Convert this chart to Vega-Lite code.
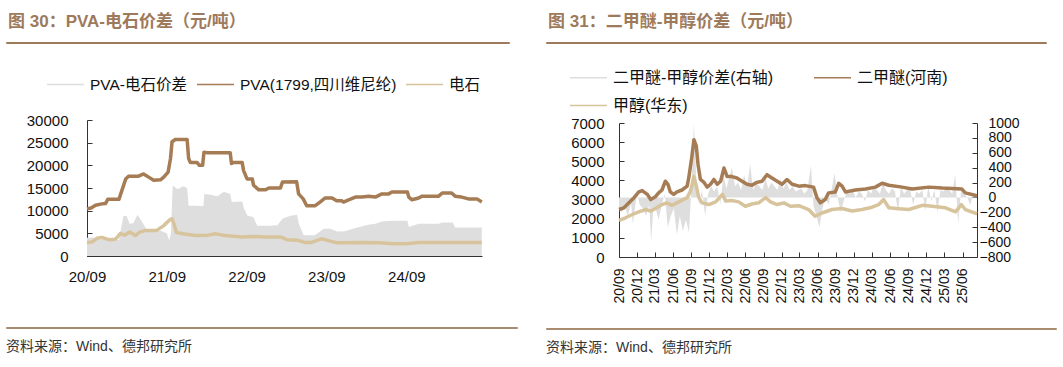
{
  "$schema": "https://vega.github.io/schema/vega-lite/v6.json",
  "background": "white",
  "padding": {"left": 5, "top": 12, "right": 0, "bottom": 0},
  "datasets": {
    "pva": [
      {"d": "2020-09-01", "v": 10400}, {"d": "2020-09-20", "v": 10600}, {"d": "2020-10-10", "v": 11200}, {"d": "2020-11-08", "v": 11500},
      {"d": "2020-11-25", "v": 11600}, {"d": "2020-12-05", "v": 12500}, {"d": "2021-01-25", "v": 12500}, {"d": "2021-02-10", "v": 14800},
      {"d": "2021-02-25", "v": 17000}, {"d": "2021-03-10", "v": 17600}, {"d": "2021-04-25", "v": 17600}, {"d": "2021-05-18", "v": 18100},
      {"d": "2021-06-10", "v": 17400}, {"d": "2021-07-03", "v": 16700}, {"d": "2021-08-03", "v": 16800}, {"d": "2021-08-18", "v": 17400},
      {"d": "2021-09-07", "v": 18500}, {"d": "2021-09-18", "v": 21500}, {"d": "2021-09-25", "v": 25200}, {"d": "2021-10-10", "v": 25700},
      {"d": "2021-12-03", "v": 25700}, {"d": "2021-12-10", "v": 21500}, {"d": "2021-12-18", "v": 20600}, {"d": "2022-01-18", "v": 20600},
      {"d": "2022-01-28", "v": 20000}, {"d": "2022-02-12", "v": 20000}, {"d": "2022-02-18", "v": 22900}, {"d": "2022-03-03", "v": 22800},
      {"d": "2022-06-18", "v": 22800}, {"d": "2022-06-24", "v": 20400}, {"d": "2022-07-03", "v": 20600}, {"d": "2022-08-12", "v": 20600},
      {"d": "2022-08-18", "v": 18900}, {"d": "2022-09-03", "v": 17000}, {"d": "2022-09-27", "v": 17000}, {"d": "2022-10-03", "v": 15600},
      {"d": "2022-10-27", "v": 14600}, {"d": "2022-11-27", "v": 14600}, {"d": "2022-12-12", "v": 15000}, {"d": "2023-02-03", "v": 15000},
      {"d": "2023-02-12", "v": 16300}, {"d": "2023-04-18", "v": 16400}, {"d": "2023-04-27", "v": 13700}, {"d": "2023-05-18", "v": 12600},
      {"d": "2023-06-03", "v": 11100}, {"d": "2023-07-12", "v": 11100}, {"d": "2023-08-03", "v": 11900}, {"d": "2023-08-27", "v": 12800},
      {"d": "2023-09-27", "v": 12800}, {"d": "2023-10-18", "v": 12200}, {"d": "2023-11-10", "v": 12200}, {"d": "2023-11-18", "v": 11900},
      {"d": "2023-12-12", "v": 12400}, {"d": "2024-01-12", "v": 13000}, {"d": "2024-02-12", "v": 13000}, {"d": "2024-03-12", "v": 13200},
      {"d": "2024-04-12", "v": 13000}, {"d": "2024-05-12", "v": 13700}, {"d": "2024-06-12", "v": 13700}, {"d": "2024-06-27", "v": 14100},
      {"d": "2024-09-06", "v": 14100}, {"d": "2024-09-12", "v": 13000}, {"d": "2024-09-27", "v": 12400}, {"d": "2024-10-27", "v": 12800},
      {"d": "2024-11-12", "v": 13200}, {"d": "2025-01-27", "v": 13200}, {"d": "2025-02-12", "v": 13900}, {"d": "2025-03-27", "v": 13900},
      {"d": "2025-04-12", "v": 13200}, {"d": "2025-05-12", "v": 13000}, {"d": "2025-06-12", "v": 12600}, {"d": "2025-07-21", "v": 12600},
      {"d": "2025-08-12", "v": 11900}
    ],
    "carbide": [
      {"d": "2020-09-01", "v": 3000}, {"d": "2020-09-25", "v": 3100}, {"d": "2020-10-16", "v": 3900}, {"d": "2020-11-08", "v": 4100},
      {"d": "2020-12-10", "v": 3600}, {"d": "2021-01-10", "v": 3700}, {"d": "2021-02-01", "v": 5000}, {"d": "2021-02-20", "v": 4600},
      {"d": "2021-03-15", "v": 5300}, {"d": "2021-04-10", "v": 4500}, {"d": "2021-05-01", "v": 5300}, {"d": "2021-05-25", "v": 5600},
      {"d": "2021-07-15", "v": 5600}, {"d": "2021-08-18", "v": 6700}, {"d": "2021-09-15", "v": 8000}, {"d": "2021-09-25", "v": 8200},
      {"d": "2021-10-05", "v": 6900}, {"d": "2021-10-15", "v": 5200}, {"d": "2021-11-15", "v": 4900}, {"d": "2022-01-10", "v": 4500},
      {"d": "2022-03-10", "v": 4600}, {"d": "2022-04-10", "v": 4900}, {"d": "2022-05-25", "v": 4500}, {"d": "2022-08-12", "v": 4200},
      {"d": "2022-09-27", "v": 4300}, {"d": "2022-11-27", "v": 4200}, {"d": "2023-02-03", "v": 4200}, {"d": "2023-03-05", "v": 3600},
      {"d": "2023-04-20", "v": 3500}, {"d": "2023-05-25", "v": 3000}, {"d": "2023-06-25", "v": 3000}, {"d": "2023-08-10", "v": 3800},
      {"d": "2023-09-10", "v": 3400}, {"d": "2023-10-20", "v": 2900}, {"d": "2023-11-20", "v": 2900}, {"d": "2024-02-12", "v": 3000},
      {"d": "2024-05-01", "v": 2900}, {"d": "2024-07-01", "v": 2700}, {"d": "2024-09-01", "v": 2700}, {"d": "2024-10-27", "v": 3000},
      {"d": "2025-08-12", "v": 3000}
    ],
    "pvaSpread": [
      {"d": "2020-09-01", "v": 4000}, {"d": "2020-10-01", "v": 4100}, {"d": "2020-11-01", "v": 3600}, {"d": "2020-12-01", "v": 3900},
      {"d": "2021-01-01", "v": 3800}, {"d": "2021-01-25", "v": 3500}, {"d": "2021-02-15", "v": 8900}, {"d": "2021-03-01", "v": 8800},
      {"d": "2021-03-15", "v": 7100}, {"d": "2021-04-01", "v": 7200}, {"d": "2021-04-20", "v": 9100}, {"d": "2021-05-10", "v": 7600},
      {"d": "2021-06-01", "v": 5800}, {"d": "2021-07-01", "v": 5400}, {"d": "2021-08-01", "v": 5600}, {"d": "2021-09-01", "v": 5000},
      {"d": "2021-09-12", "v": 3500}, {"d": "2021-09-20", "v": 5000}, {"d": "2021-09-28", "v": 15600}, {"d": "2021-10-20", "v": 14700},
      {"d": "2021-11-15", "v": 15400}, {"d": "2021-12-03", "v": 15000}, {"d": "2021-12-10", "v": 11100}, {"d": "2022-01-15", "v": 11100},
      {"d": "2022-02-15", "v": 11000}, {"d": "2022-02-20", "v": 13700}, {"d": "2022-03-20", "v": 13500}, {"d": "2022-04-20", "v": 13200},
      {"d": "2022-05-20", "v": 14200}, {"d": "2022-06-18", "v": 13700}, {"d": "2022-06-25", "v": 11900}, {"d": "2022-08-12", "v": 12000},
      {"d": "2022-08-20", "v": 10500}, {"d": "2022-09-05", "v": 8900}, {"d": "2022-10-01", "v": 8600}, {"d": "2022-10-20", "v": 6700},
      {"d": "2022-12-10", "v": 6700}, {"d": "2023-01-20", "v": 6800}, {"d": "2023-02-12", "v": 8200}, {"d": "2023-03-20", "v": 8900},
      {"d": "2023-04-20", "v": 9100}, {"d": "2023-04-28", "v": 7100}, {"d": "2023-05-20", "v": 4600}, {"d": "2023-07-10", "v": 4600},
      {"d": "2023-08-20", "v": 6000}, {"d": "2023-09-20", "v": 6000}, {"d": "2023-10-20", "v": 5400}, {"d": "2023-11-20", "v": 5400},
      {"d": "2024-01-12", "v": 6200}, {"d": "2024-03-12", "v": 6900}, {"d": "2024-04-12", "v": 7100}, {"d": "2024-05-12", "v": 7600},
      {"d": "2024-06-27", "v": 7800}, {"d": "2024-09-06", "v": 7800}, {"d": "2024-09-12", "v": 6400}, {"d": "2024-10-27", "v": 7100},
      {"d": "2025-01-27", "v": 7100}, {"d": "2025-02-12", "v": 7400}, {"d": "2025-04-01", "v": 7400}, {"d": "2025-04-12", "v": 6300},
      {"d": "2025-08-12", "v": 6300}
    ],
    "dme": [
      {"d": "2020-09-01", "v": 2480}, {"d": "2020-09-26", "v": 2570}, {"d": "2020-10-21", "v": 2830}, {"d": "2020-11-16", "v": 3100},
      {"d": "2020-12-10", "v": 3400}, {"d": "2020-12-27", "v": 3470}, {"d": "2021-01-22", "v": 3270}, {"d": "2021-02-08", "v": 3000},
      {"d": "2021-03-04", "v": 3150}, {"d": "2021-03-20", "v": 3350}, {"d": "2021-04-06", "v": 3500}, {"d": "2021-04-23", "v": 3960},
      {"d": "2021-05-06", "v": 3800}, {"d": "2021-05-18", "v": 3400}, {"d": "2021-06-04", "v": 3270}, {"d": "2021-06-21", "v": 3400},
      {"d": "2021-07-16", "v": 3500}, {"d": "2021-08-11", "v": 3700}, {"d": "2021-08-19", "v": 4130}, {"d": "2021-09-03", "v": 5180},
      {"d": "2021-09-14", "v": 6130}, {"d": "2021-09-26", "v": 5800}, {"d": "2021-10-05", "v": 4830}, {"d": "2021-10-17", "v": 4050},
      {"d": "2021-11-04", "v": 3900}, {"d": "2021-11-20", "v": 3650}, {"d": "2021-12-07", "v": 3800}, {"d": "2021-12-24", "v": 4050},
      {"d": "2022-01-10", "v": 3800}, {"d": "2022-01-27", "v": 3960}, {"d": "2022-02-13", "v": 4650}, {"d": "2022-03-01", "v": 4200},
      {"d": "2022-03-25", "v": 4200}, {"d": "2022-04-19", "v": 4130}, {"d": "2022-05-15", "v": 3960}, {"d": "2022-06-09", "v": 3800},
      {"d": "2022-07-04", "v": 3750}, {"d": "2022-07-29", "v": 3900}, {"d": "2022-08-24", "v": 3960}, {"d": "2022-09-18", "v": 4300},
      {"d": "2022-10-13", "v": 4130}, {"d": "2022-11-08", "v": 3960}, {"d": "2022-12-03", "v": 3800}, {"d": "2022-12-28", "v": 4050},
      {"d": "2023-01-23", "v": 3800}, {"d": "2023-02-26", "v": 3700}, {"d": "2023-03-30", "v": 3730}, {"d": "2023-05-11", "v": 3650},
      {"d": "2023-05-28", "v": 3100}, {"d": "2023-06-14", "v": 2830}, {"d": "2023-07-09", "v": 3000}, {"d": "2023-07-26", "v": 3350},
      {"d": "2023-08-29", "v": 3400}, {"d": "2023-09-15", "v": 3850}, {"d": "2023-10-02", "v": 3700}, {"d": "2023-10-19", "v": 3400},
      {"d": "2023-12-08", "v": 3500}, {"d": "2024-01-28", "v": 3550}, {"d": "2024-03-18", "v": 3650}, {"d": "2024-04-21", "v": 3850},
      {"d": "2024-05-25", "v": 3750}, {"d": "2024-07-31", "v": 3650}, {"d": "2024-09-20", "v": 3550}, {"d": "2024-12-13", "v": 3650},
      {"d": "2025-02-19", "v": 3600}, {"d": "2025-05-29", "v": 3550}, {"d": "2025-06-15", "v": 3350}, {"d": "2025-08-13", "v": 3200}
    ],
    "meoh": [
      {"d": "2020-09-01", "v": 1910}, {"d": "2020-10-04", "v": 2050}, {"d": "2020-11-07", "v": 2220}, {"d": "2020-12-10", "v": 2360},
      {"d": "2021-01-14", "v": 2480}, {"d": "2021-02-08", "v": 2400}, {"d": "2021-03-04", "v": 2530}, {"d": "2021-04-06", "v": 2740},
      {"d": "2021-05-01", "v": 2830}, {"d": "2021-05-26", "v": 2700}, {"d": "2021-06-30", "v": 2880}, {"d": "2021-08-11", "v": 3100},
      {"d": "2021-08-28", "v": 3440}, {"d": "2021-09-14", "v": 4200}, {"d": "2021-09-26", "v": 3700}, {"d": "2021-10-09", "v": 3100},
      {"d": "2021-10-25", "v": 2830}, {"d": "2021-11-29", "v": 2740}, {"d": "2022-01-02", "v": 2880}, {"d": "2022-02-05", "v": 3270},
      {"d": "2022-02-22", "v": 2920}, {"d": "2022-03-25", "v": 2950}, {"d": "2022-04-28", "v": 2880}, {"d": "2022-06-01", "v": 2650},
      {"d": "2022-07-04", "v": 2770}, {"d": "2022-08-07", "v": 2830}, {"d": "2022-09-11", "v": 3100}, {"d": "2022-10-06", "v": 2880},
      {"d": "2022-11-08", "v": 2740}, {"d": "2022-12-12", "v": 2830}, {"d": "2023-01-15", "v": 2650}, {"d": "2023-02-26", "v": 2680},
      {"d": "2023-04-16", "v": 2480}, {"d": "2023-05-19", "v": 2130}, {"d": "2023-06-22", "v": 2300}, {"d": "2023-08-12", "v": 2480},
      {"d": "2023-10-02", "v": 2530}, {"d": "2023-11-21", "v": 2400}, {"d": "2024-01-11", "v": 2480}, {"d": "2024-03-01", "v": 2600},
      {"d": "2024-04-04", "v": 2740}, {"d": "2024-04-29", "v": 3000}, {"d": "2024-05-25", "v": 2570}, {"d": "2024-07-14", "v": 2520},
      {"d": "2024-09-03", "v": 2480}, {"d": "2024-11-10", "v": 2700}, {"d": "2024-12-30", "v": 2650}, {"d": "2025-03-07", "v": 2570},
      {"d": "2025-04-27", "v": 2360}, {"d": "2025-05-26", "v": 2740}, {"d": "2025-06-15", "v": 2480}, {"d": "2025-08-13", "v": 2260}
    ],
    "dmeSpread": [
      {"d": "2020-09-01", "v": -150}, {"d": "2020-09-15", "v": -200}, {"d": "2020-10-01", "v": -120}, {"d": "2020-10-15", "v": -250},
      {"d": "2020-11-01", "v": -80}, {"d": "2020-11-10", "v": -360}, {"d": "2020-11-20", "v": -150}, {"d": "2020-12-01", "v": 50}, {"d": "2020-12-15", "v": -100},
      {"d": "2021-01-01", "v": -150}, {"d": "2021-01-15", "v": -250}, {"d": "2021-02-01", "v": -100}, {"d": "2021-02-10", "v": -600},
      {"d": "2021-02-20", "v": -200}, {"d": "2021-03-05", "v": -150}, {"d": "2021-03-20", "v": -300}, {"d": "2021-04-05", "v": -100},
      {"d": "2021-04-20", "v": 50}, {"d": "2021-05-05", "v": -400}, {"d": "2021-05-20", "v": -250}, {"d": "2021-06-05", "v": -150},
      {"d": "2021-06-20", "v": -500}, {"d": "2021-07-05", "v": -250}, {"d": "2021-07-20", "v": -450}, {"d": "2021-08-05", "v": -300},
      {"d": "2021-08-20", "v": -470}, {"d": "2021-09-01", "v": 100}, {"d": "2021-09-14", "v": 1000}, {"d": "2021-09-25", "v": 300},
      {"d": "2021-10-10", "v": -100}, {"d": "2021-10-25", "v": 100}, {"d": "2021-11-10", "v": -250}, {"d": "2021-11-25", "v": 50},
      {"d": "2021-12-10", "v": 150}, {"d": "2021-12-25", "v": 80}, {"d": "2022-01-10", "v": 150}, {"d": "2022-01-25", "v": -100},
      {"d": "2022-02-10", "v": 300}, {"d": "2022-02-25", "v": 120}, {"d": "2022-03-10", "v": 250}, {"d": "2022-03-25", "v": 400},
      {"d": "2022-04-10", "v": 150}, {"d": "2022-04-25", "v": 200}, {"d": "2022-05-10", "v": 100}, {"d": "2022-05-25", "v": 300},
      {"d": "2022-06-10", "v": 150}, {"d": "2022-06-25", "v": 450}, {"d": "2022-07-10", "v": 100}, {"d": "2022-07-25", "v": 200},
      {"d": "2022-08-10", "v": 150}, {"d": "2022-08-25", "v": 100}, {"d": "2022-09-10", "v": 250}, {"d": "2022-09-25", "v": 120},
      {"d": "2022-10-10", "v": 200}, {"d": "2022-10-25", "v": 150}, {"d": "2022-11-10", "v": 100}, {"d": "2022-11-25", "v": 250},
      {"d": "2022-12-10", "v": 120}, {"d": "2022-12-25", "v": 200}, {"d": "2023-01-10", "v": 100}, {"d": "2023-01-25", "v": 150},
      {"d": "2023-02-10", "v": 80}, {"d": "2023-02-25", "v": 100}, {"d": "2023-03-10", "v": 120}, {"d": "2023-03-25", "v": 50},
      {"d": "2023-04-10", "v": 100}, {"d": "2023-04-28", "v": 430}, {"d": "2023-05-10", "v": -100}, {"d": "2023-05-25", "v": -250},
      {"d": "2023-06-10", "v": -400}, {"d": "2023-06-25", "v": -150}, {"d": "2023-07-10", "v": 0}, {"d": "2023-07-25", "v": -100},
      {"d": "2023-08-10", "v": 100}, {"d": "2023-08-25", "v": 330}, {"d": "2023-09-10", "v": 0}, {"d": "2023-09-25", "v": -200},
      {"d": "2023-10-10", "v": -50}, {"d": "2023-10-25", "v": 80}, {"d": "2023-11-10", "v": 50}, {"d": "2023-11-25", "v": 100},
      {"d": "2023-12-10", "v": 0}, {"d": "2023-12-25", "v": 80}, {"d": "2024-01-10", "v": 50}, {"d": "2024-01-25", "v": -50},
      {"d": "2024-02-10", "v": 100}, {"d": "2024-02-25", "v": 50}, {"d": "2024-03-10", "v": 150}, {"d": "2024-03-25", "v": 100},
      {"d": "2024-04-10", "v": 50}, {"d": "2024-04-25", "v": 200}, {"d": "2024-05-10", "v": 100}, {"d": "2024-05-25", "v": 50},
      {"d": "2024-06-10", "v": 120}, {"d": "2024-06-25", "v": 80}, {"d": "2024-07-10", "v": -200}, {"d": "2024-07-25", "v": 150},
      {"d": "2024-08-10", "v": 50}, {"d": "2024-08-25", "v": 100}, {"d": "2024-09-10", "v": 100}, {"d": "2024-09-25", "v": -100},
      {"d": "2024-10-10", "v": 80}, {"d": "2024-10-25", "v": 50}, {"d": "2024-11-10", "v": 100}, {"d": "2024-11-25", "v": -180},
      {"d": "2024-12-10", "v": 150}, {"d": "2024-12-25", "v": -50}, {"d": "2025-01-10", "v": 100}, {"d": "2025-01-25", "v": -200},
      {"d": "2025-02-10", "v": 100}, {"d": "2025-02-25", "v": 80}, {"d": "2025-03-10", "v": 120}, {"d": "2025-03-25", "v": 100},
      {"d": "2025-04-10", "v": 50}, {"d": "2025-04-25", "v": 310}, {"d": "2025-05-10", "v": -360}, {"d": "2025-05-25", "v": 100},
      {"d": "2025-06-10", "v": 50}, {"d": "2025-06-25", "v": 0}, {"d": "2025-07-10", "v": -100}, {"d": "2025-07-25", "v": 50},
      {"d": "2025-08-13", "v": 0}
    ]
  },
  "spacing": 27,
  "resolve": {"scale": {"color": "independent"}, "legend": {"color": "independent"}},
  "hconcat": [
    {
      "spacing": 42,
      "resolve": {"scale": {"color": "independent"}, "legend": {"color": "independent"}},
      "vconcat": [
        {
          "spacing": 21,
          "resolve": {"scale": {"color": "independent"}, "legend": {"color": "independent"}},
          "vconcat": [
            {
              "width": 503,
              "height": 1,
              "data": {"values": []},
              "mark": "point",
              "view": {"stroke": "#9E7A5C", "strokeWidth": 1, "fill": null},
              "title": {"text": "图 30：PVA-电石价差（元/吨）", "anchor": "start", "frame": "group", "dx": 2, "offset": 11, "fontSize": 17, "fontWeight": "bold", "color": "#9E7A5C", "font": "Liberation Sans, Noto Sans CJK SC"}
            },
            {
              "spacing": 0,
              "resolve": {"scale": {"color": "independent"}, "legend": {"color": "independent"}},
              "hconcat": [
                {"width": 20, "height": 1, "data": {"values": []}, "mark": "point"},
                {
                  "width": 395,
                  "height": 136,
                  "encoding": {
                    "x": {
                      "field": "d", "type": "temporal",
                      "scale": {"domain": [{"year": 2020, "month": 9, "date": 1}, {"year": 2025, "month": 8, "date": 13}]},
                      "axis": {
                        "values": [{"year": 2020, "month": 9, "date": 1}, {"year": 2021, "month": 9, "date": 1}, {"year": 2022, "month": 9, "date": 1}, {"year": 2023, "month": 9, "date": 1}, {"year": 2024, "month": 9, "date": 1}],
                        "format": "%y/%m", "labelAngle": 0, "tickSize": -5, "labelPadding": 18, "labelFontSize": 15, "labelFlush": false, "title": null
                      }
                    },
                    "y": {
                      "field": "v", "type": "quantitative",
                      "scale": {"domain": [0, 30000], "nice": false},
                      "axis": {"values": [0, 5000, 10000, 15000, 20000, 25000, 30000], "format": "d", "tickSize": -5, "labelPadding": 24, "labelFontSize": 15, "labelFlush": false, "labelOverlap": false, "title": null}
                    }
                  },
                  "layer": [
                    {
                      "data": {"name": "pvaSpread"},
                      "mark": {"type": "area", "opacity": 1},
                      "encoding": {
                        "color": {
                          "datum": "PVA-电石价差",
                          "scale": {"domain": ["PVA-电石价差", "PVA(1799,四川维尼纶)", "电石"], "range": ["#DEDEDE", "#A67C54", "#D8C49C"]},
                          "legend": {
                            "orient": "none", "legendX": -41, "legendY": -55, "direction": "horizontal", "columns": 3, "title": null,
                            "symbolType": "stroke", "symbolSize": 1369, "labelFontSize": 15.5, "labelOffset": 5, "columnPadding": 6, "labelLimit": 400,
                            "encode": {"symbols": {"update": {
                              "stroke": {"signal": "datum.value === 'PVA-电石价差' ? '#DEDEDE' : (datum.value === '电石' ? '#D8C49C' : '#A67C54')"},
                              "strokeWidth": {"signal": "datum.value === 'PVA-电石价差' ? 7 : 3.5"},
                              "fill": {"value": "transparent"}
                            }}}
                          }
                        }
                      }
                    },
                    {
                      "data": {"name": "pva"},
                      "mark": {"type": "line", "strokeWidth": 3.5, "strokeJoin": "round"},
                      "encoding": {"color": {"datum": "PVA(1799,四川维尼纶)"}}
                    },
                    {
                      "data": {"name": "carbide"},
                      "mark": {"type": "line", "strokeWidth": 3.5, "strokeJoin": "round"},
                      "encoding": {"color": {"datum": "电石"}}
                    }
                  ]
                }
              ]
            }
          ]
        },
        {
          "width": 511,
          "height": 1,
          "data": {"values": []},
          "mark": "point",
          "view": {"stroke": "#A88B70", "strokeWidth": 1, "fill": null},
          "title": {"text": "资料来源：Wind、德邦研究所", "orient": "bottom", "anchor": "start", "frame": "group", "offset": 12, "fontSize": 14, "fontWeight": "normal", "color": "#333333", "font": "Liberation Sans, Noto Sans CJK SC"}
        }
      ]
    },
    {
      "spacing": 23,
      "resolve": {"scale": {"color": "independent"}, "legend": {"color": "independent"}},
      "vconcat": [
        {
          "spacing": 14,
          "resolve": {"scale": {"color": "independent"}, "legend": {"color": "independent"}},
          "vconcat": [
            {
              "width": 500,
              "height": 1,
              "data": {"values": []},
              "mark": "point",
              "view": {"stroke": "#9E7A5C", "strokeWidth": 1, "fill": null},
              "title": {"text": "图 31：二甲醚-甲醇价差（元/吨）", "anchor": "start", "frame": "group", "dx": 2, "offset": 11, "fontSize": 17, "fontWeight": "bold", "color": "#9E7A5C", "font": "Liberation Sans, Noto Sans CJK SC"}
            },
            {
              "spacing": 0,
              "resolve": {"scale": {"color": "independent"}, "legend": {"color": "independent"}},
              "hconcat": [
                {"width": 23, "height": 1, "data": {"values": []}, "mark": "point"},
                {
                  "width": 358,
                  "height": 134,
                  "encoding": {
                    "x": {
                      "field": "d", "type": "temporal",
                      "scale": {"domain": [{"year": 2020, "month": 9, "date": 1}, {"year": 2025, "month": 8, "date": 13}]},
                      "axis": {
                        "values": [
                          {"year": 2020, "month": 9, "date": 1}, {"year": 2020, "month": 12, "date": 1},
                          {"year": 2021, "month": 3, "date": 1}, {"year": 2021, "month": 6, "date": 1}, {"year": 2021, "month": 9, "date": 1}, {"year": 2021, "month": 12, "date": 1},
                          {"year": 2022, "month": 3, "date": 1}, {"year": 2022, "month": 6, "date": 1}, {"year": 2022, "month": 9, "date": 1}, {"year": 2022, "month": 12, "date": 1},
                          {"year": 2023, "month": 3, "date": 1}, {"year": 2023, "month": 6, "date": 1}, {"year": 2023, "month": 9, "date": 1}, {"year": 2023, "month": 12, "date": 1},
                          {"year": 2024, "month": 3, "date": 1}, {"year": 2024, "month": 6, "date": 1}, {"year": 2024, "month": 9, "date": 1}, {"year": 2024, "month": 12, "date": 1},
                          {"year": 2025, "month": 3, "date": 1}, {"year": 2025, "month": 6, "date": 1}
                        ],
                        "format": "%y/%m", "labelAngle": -90, "tickSize": -5, "labelPadding": 16, "labelFontSize": 14, "labelFlush": false, "labelOverlap": false, "title": null
                      }
                    }
                  },
                  "layer": [
                    {
                      "data": {"name": "dmeSpread"},
                      "mark": {"type": "area", "opacity": 1},
                      "encoding": {
                        "y": {
                          "field": "v", "type": "quantitative",
                          "scale": {"domain": [-800, 1000], "nice": false, "zero": false},
                          "axis": {"orient": "right", "values": [-800, -600, -400, -200, 0, 200, 400, 600, 800, 1000], "format": "d", "tickSize": -5,
                            "labelPadding": {"condition": {"test": "datum.value < 0", "value": 7}, "value": 16}, "labelFontSize": 14, "labelFlush": false, "labelOverlap": false, "title": null}
                        },
                        "y2": {"datum": 0},
                        "color": {
                          "datum": "二甲醚-甲醇价差(右轴)",
                          "scale": {"domain": ["二甲醚-甲醇价差(右轴)", "二甲醚(河南)", "甲醇(华东)"], "range": ["#DEDEDE", "#A67C54", "#D8C49C"]},
                          "legend": {
                            "orient": "none", "legendX": -50, "legendY": -65, "direction": "horizontal", "columns": 2, "title": null,
                            "symbolType": "stroke", "symbolSize": 1369, "labelFontSize": 16, "labelOffset": 5, "columnPadding": 38, "rowPadding": -9, "labelLimit": 400,
                            "encode": {"symbols": {"update": {
                              "stroke": {"signal": "datum.value === '二甲醚-甲醇价差(右轴)' ? '#DEDEDE' : (datum.value === '甲醇(华东)' ? '#D8C49C' : '#A67C54')"},
                              "strokeWidth": {"signal": "datum.value === '二甲醚-甲醇价差(右轴)' ? 7 : 3.5"},
                              "fill": {"value": "transparent"}
                            }}}
                          }
                        }
                      }
                    },
                    {
                      "encoding": {
                        "y": {
                          "field": "v", "type": "quantitative",
                          "scale": {"domain": [0, 7000], "nice": false},
                          "axis": {"orient": "left", "values": [0, 1000, 2000, 3000, 4000, 5000, 6000, 7000], "format": "d", "tickSize": -5, "labelPadding": 20, "labelFontSize": 15, "labelFlush": false, "labelOverlap": false, "title": null}
                        }
                      },
                      "layer": [
                        {
                          "data": {"name": "dme"},
                          "mark": {"type": "line", "strokeWidth": 3.5, "strokeJoin": "round"},
                          "encoding": {"color": {"datum": "二甲醚(河南)"}}
                        },
                        {
                          "data": {"name": "meoh"},
                          "mark": {"type": "line", "strokeWidth": 3.5, "strokeJoin": "round"},
                          "encoding": {"color": {"datum": "甲醇(华东)"}}
                        }
                      ]
                    }
                  ],
                  "resolve": {"scale": {"y": "independent"}}
                }
              ]
            }
          ]
        },
        {
          "width": 510,
          "height": 1,
          "data": {"values": []},
          "mark": "point",
          "view": {"stroke": "#A88B70", "strokeWidth": 1, "fill": null},
          "title": {"text": "资料来源：Wind、德邦研究所", "orient": "bottom", "anchor": "start", "frame": "group", "offset": 12, "fontSize": 14, "fontWeight": "normal", "color": "#333333", "font": "Liberation Sans, Noto Sans CJK SC"}
        }
      ]
    }
  ],
  "config": {
    "view": {"stroke": null},
    "font": "Liberation Sans, Noto Sans CJK SC",
    "axis": {"grid": false, "domainColor": "#333333", "tickColor": "#333333", "labelColor": "#111111", "labelFont": "Liberation Sans", "domainWidth": 1, "tickWidth": 1},
    "legend": {"labelFont": "Liberation Sans, Noto Sans CJK SC", "labelColor": "#111111"}
  }
}
